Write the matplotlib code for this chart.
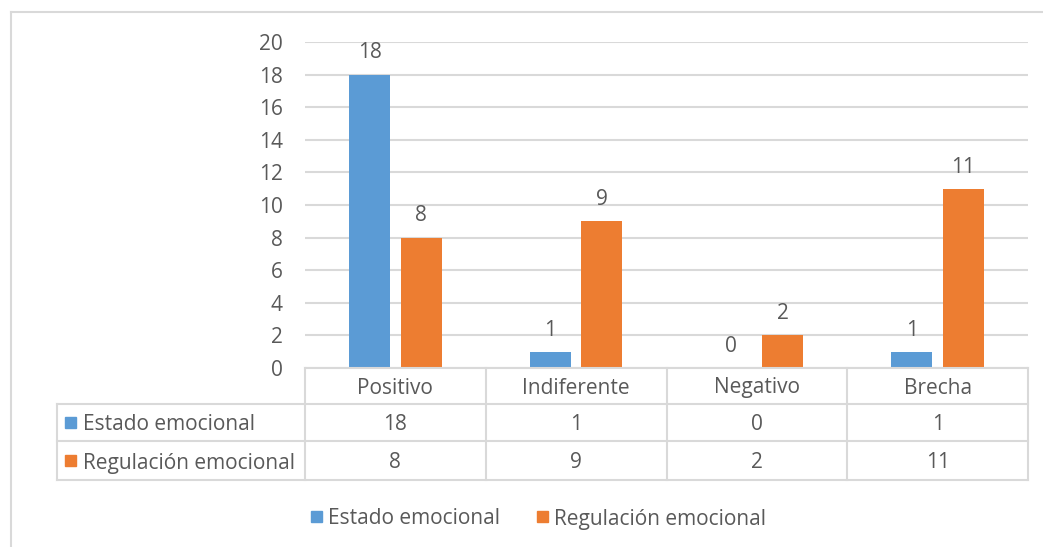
import matplotlib.pyplot as plt
from matplotlib.lines import Line2D
import numpy as np

plt.rcParams['font.family'] = ['Open Sans', 'DejaVu Sans']

categorias = ['Positivo', 'Indiferente', 'Negativo', 'Brecha']
estado = [18, 1, 0, 1]
regulacion = [8, 9, 2, 11]
series = ['Estado emocional', 'Regulación emocional']

AZUL = '#5B9BD5'
NARANJA = '#ED7D31'
GRIS = '#595959'
LINEA = '#D9D9D9'
W, H = 1043, 547
FS = 15

def fx(px):
    return px / W

def fy(py):
    return 1 - py / H

fig = plt.figure(figsize=(W / 100, H / 100), dpi=100)

# marco exterior del grafico
fig.add_artist(Line2D([fx(11), fx(1043)], [fy(12), fy(12)], color=LINEA, lw=1.5))
fig.add_artist(Line2D([fx(11), fx(11)], [fy(12), fy(547)], color=LINEA, lw=1.5))

x0, x1 = 305, 1028
ax = fig.add_axes([fx(x0), fy(368), fx(x1 - x0), fy(42) - fy(368)])
x = np.arange(len(categorias))
ancho = 0.227
b1 = ax.bar(x - 0.142, estado, ancho, color=AZUL)
b2 = ax.bar(x + 0.142, regulacion, ancho, color=NARANJA)
for barras in (b1, b2):
    for b in barras:
        ax.annotate(str(int(b.get_height())), (b.get_x() + b.get_width() / 2, b.get_height()),
                    xytext=(0, 8), textcoords='offset points', ha='center', va='bottom',
                    fontsize=FS, color=GRIS)

ax.set_xlim(-0.5, len(categorias) - 0.5)
ax.set_ylim(0, 20)
ax.set_yticks(range(0, 21, 2))
ax.set_xticks([])
ax.tick_params(axis='y', length=0, pad=16, labelsize=FS, labelcolor=GRIS)
ax.grid(axis='y', color=LINEA, lw=1.5)
ax.set_axisbelow(True)
for s in ax.spines.values():
    s.set_visible(False)

# tabla de datos debajo del eje
filas_y = [368, 404, 441, 480]
cols_x = [x0 + i * (x1 - x0) / len(categorias) for i in range(len(categorias) + 1)]
izq = 57
for i, yy in enumerate(filas_y):
    xa = x0 if i == 0 else izq
    fig.add_artist(Line2D([fx(xa), fx(x1)], [fy(yy), fy(yy)], color=LINEA, lw=1.5))
for cx in cols_x:
    fig.add_artist(Line2D([fx(cx), fx(cx)], [fy(368), fy(480)], color=LINEA, lw=1.5))
fig.add_artist(Line2D([fx(izq), fx(izq)], [fy(404), fy(480)], color=LINEA, lw=1.5))

for j, cat in enumerate(categorias):
    cxm = (cols_x[j] + cols_x[j + 1]) / 2
    fig.text(fx(cxm), fy(388), cat, ha='center', va='center', fontsize=FS, color=GRIS)
    fig.text(fx(cxm), fy(425), str(estado[j]), ha='center', va='center', fontsize=FS, color=GRIS)
    fig.text(fx(cxm), fy(463), str(regulacion[j]), ha='center', va='center', fontsize=FS, color=GRIS)

for yy, nombre, col in [(423, series[0], AZUL), (461, series[1], NARANJA)]:
    fig.patches.append(plt.Rectangle((fx(65), fy(yy + 5)), fx(11), fy(yy - 6) - fy(yy + 5),
                                     transform=fig.transFigure, color=col))
    fig.text(fx(83), fy(yy + 2), nombre, ha='left', va='center', fontsize=FS, color=GRIS)

# leyenda
for lx, nombre, col in [(311, series[0], AZUL), (537, series[1], NARANJA)]:
    fig.patches.append(plt.Rectangle((fx(lx), fy(522)), fx(11), fy(511) - fy(522),
                                     transform=fig.transFigure, color=col))
    fig.text(fx(lx + 17), fy(519), nombre, ha='left', va='center', fontsize=FS, color=GRIS)

fig.savefig('out.png', dpi=100)
